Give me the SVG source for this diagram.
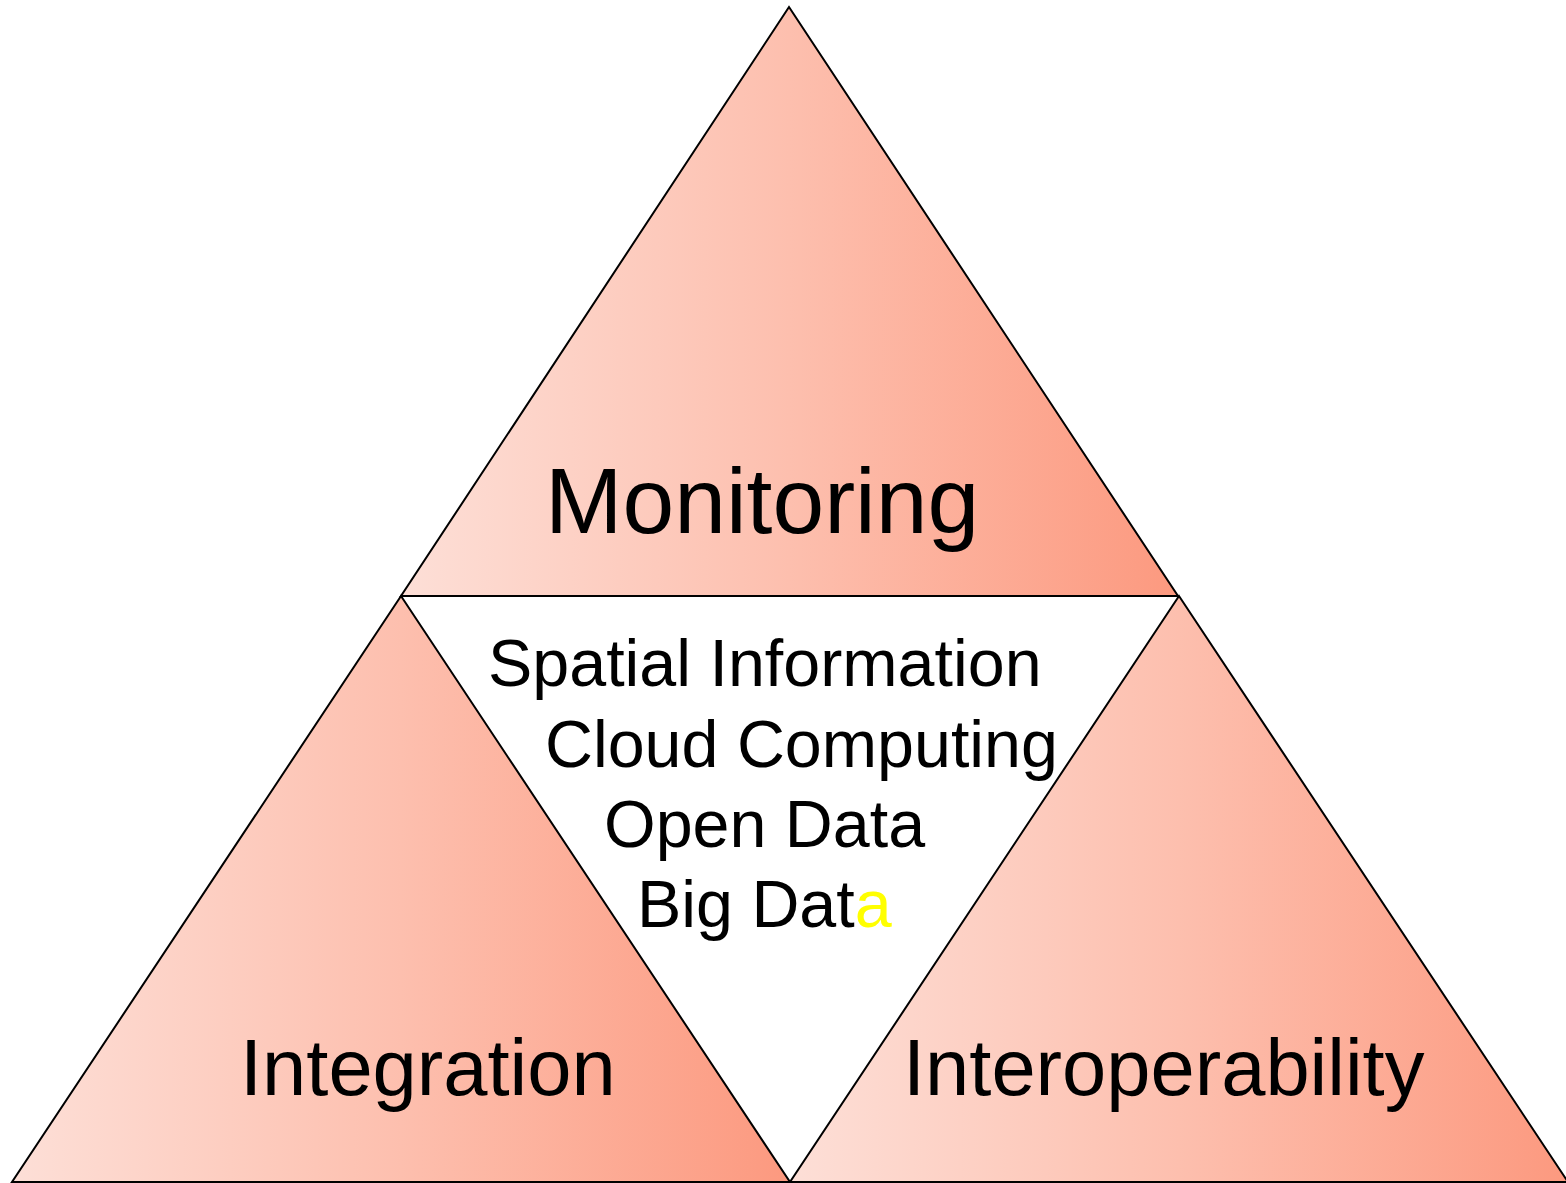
<svg xmlns="http://www.w3.org/2000/svg" width="1566" height="1183" viewBox="0 0 1566 1183">
<defs>
<linearGradient id="g" x1="0" y1="0" x2="1" y2="0">
<stop offset="0" stop-color="#fddfd7"/>
<stop offset="0.5" stop-color="#fdbfae"/>
<stop offset="1" stop-color="#fc997f"/>
</linearGradient>
<style>
.tri{fill:url(#g);stroke:#000;stroke-width:2;stroke-linejoin:miter}
.big{font-family:"Liberation Sans",Arial,sans-serif;font-size:93px;fill:#000}
.mid{font-family:"Liberation Sans",Arial,sans-serif;font-size:79.5px;fill:#000}
.sm{font-family:"Liberation Sans",Arial,sans-serif;font-size:66.4px;fill:#000}
</style>
</defs>
<rect width="1566" height="1183" fill="#fff"/>
<g id="monitoring">
<polygon class="tri" points="789,7 1178,596 401,596"/>
<text class="big" x="545" y="533">Monitoring</text>
</g>
<g id="integration">
<polygon class="tri" points="401,596 790,1182 12,1182"/>
<text class="mid" x="240" y="1095">Integration</text>
</g>
<g id="interoperability">
<polygon class="tri" points="1179,596 1568,1182 790,1182"/>
<text class="mid" x="903" y="1095">Interoperability</text>
</g>
<g id="center">
<text class="sm" x="488" y="686">Spatial Information</text>
<text class="sm" x="545" y="767">Cloud Computing</text>
<text class="sm" x="604" y="847">Open Data</text>
<text class="sm" x="637" y="927">Big Dat<tspan fill="#ffff00">a</tspan></text>
</g>
<g id="connectors"/>
</svg>
